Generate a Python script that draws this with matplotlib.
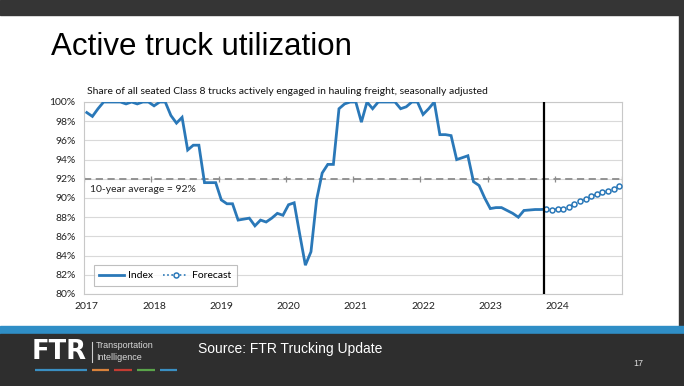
import matplotlib
matplotlib.use("Agg")
import matplotlib.pyplot as plt
from matplotlib.patches import Rectangle
from matplotlib.lines import Line2D
from matplotlib import font_manager

# ---- data (monthly, Jan 2017 onward) ----
years = ["2017", "2018", "2019", "2020", "2021", "2022", "2023", "2024"]
index_vals = [
    98.9, 98.5, 99.3, 100, 100, 100, 100, 99.8, 100, 99.8, 100, 100,          # 2017
    99.6, 100, 100, 98.6, 97.8, 98.4, 95.0, 95.5, 95.5, 91.6, 91.6, 91.6,     # 2018
    89.8, 89.4, 89.4, 87.7, 87.8, 87.9, 87.1, 87.7, 87.5, 87.9, 88.4, 88.2,   # 2019
    89.3, 89.5, 86.2, 83.0, 84.4, 89.8, 92.6, 93.5, 93.5, 99.3, 99.8, 100,    # 2020
    100, 97.9, 100, 99.3, 100, 100, 100, 100, 99.3, 99.5, 100, 100,          # 2021
    98.7, 99.3, 100, 96.6, 96.6, 96.5, 94.0, 94.2, 94.4, 91.7, 91.3, 90.0,    # 2022
    88.9, 89.0, 89.0, 88.7, 88.4, 88.0, 88.7, 88.75, 88.8, 88.8, 88.85,      # 2023 Jan-Nov
]
forecast_vals = [88.85, 88.8, 88.85, 88.9, 89.1, 89.4, 89.7, 89.9, 90.2, 90.4,
                 90.6, 90.7, 90.9, 91.3]   # Nov 2023 - Dec 2024
forecast_start = len(index_vals) - 1
ten_year_avg = 92
forecast_marker_pos = 81.6

installed = {f.name for f in font_manager.fontManager.ttflist}
narrow = "Liberation Sans Narrow" if "Liberation Sans Narrow" in installed else "Liberation Sans"

W, H = 684, 386
fig = plt.figure(figsize=(W / 100, H / 100), dpi=100)
fig.patch.set_facecolor("white")

# slide decoration
bg = fig.add_axes([0, 0, 1, 1])
bg.set_xlim(0, W)
bg.set_ylim(H, 0)
bg.axis("off")
bg.add_patch(Rectangle((0, 0), W, 15, color="#353535"))
bg.add_patch(Rectangle((679, 0), 5, H, color="#353535"))
bg.add_patch(Rectangle((0, 326), W, 8, color="#2f8ec6"))
bg.add_patch(Rectangle((0, 334), W, H - 334, color="#2e2e2e"))

bg.text(51, 47, "Active truck utilization", fontsize=22.5, family="Liberation Sans",
        color="black", va="center", ha="left")

# footer
bg.text(32, 352, "FTR", fontsize=18.5, family="DejaVu Sans", fontweight="heavy",
        color="white", va="center", ha="left")
bg.plot([92, 92], [342, 362], color="#cfcfcf", lw=0.8)
bg.text(96, 346, "Transportation", fontsize=6.5, family=narrow,
        color="#d8d8d8", va="center", ha="left")
bg.text(96, 357, "Intelligence", fontsize=6.5, family=narrow,
        color="#d8d8d8", va="center", ha="left")
for (x0, x1), c in zip([(35, 87), (92, 109), (114, 132), (137, 155), (160, 177)],
                       ["#3a8fc2", "#d9823b", "#c33c32", "#5aa44a", "#3a8fc2"]):
    bg.plot([x0, x1], [370, 370], color=c, lw=1.6, solid_capstyle="butt")
bg.text(198, 349, "Source: FTR Trucking Update", fontsize=10, family="Liberation Sans",
        color="white", va="center", ha="left")
bg.text(638, 363, "17", fontsize=6.5, family="Liberation Sans",
        color="#dddddd", va="center", ha="center")

# chart
L, R, T, B = 84, 622, 102, 294
ax = fig.add_axes([L / W, 1 - B / H, (R - L) / W, (B - T) / H])
ax.set_facecolor("white")
blue = "#2a78b8"
n_total = len(index_vals) - 1 + len(forecast_vals)
ax.set_xlim(-0.5, n_total - 0.5)
ax.set_ylim(80, 100)
yt = list(range(80, 101, 2))
ax.set_yticks(yt)
ax.set_yticklabels([f"{v}%" for v in yt])
ax.set_xticks(range(0, 12 * len(years), 12))
ax.set_xticklabels(years)
ax.tick_params(length=0, labelsize=7.5, colors="#222222")
ax.tick_params(axis="x", pad=6)
ax.tick_params(axis="y", pad=6)
for lbl in ax.get_xticklabels() + ax.get_yticklabels():
    lbl.set_family("Lato")
ax.grid(axis="y", color="#d9d9d9", lw=0.8)
ax.set_axisbelow(True)
for s in ax.spines.values():
    s.set_color("#c8c8c8")
    s.set_linewidth(0.8)

# 92% crossing axis with tick marks at year boundaries
ax.axhline(ten_year_avg, color="#8c8c8c", lw=1.3, ls=(0, (4, 2.5)), zorder=2)
ax.plot([12 * k - 0.5 for k in range(len(years) + 1)], [ten_year_avg] * (len(years) + 1),
        ls="none", marker="|", ms=5, mew=0.9, color="#8c8c8c", zorder=2)
ax.text(0.5, 90.9, "10-year average = 92%", fontsize=7.5, family="Lato",
        color="#222222", va="center", ha="left")

xi = list(range(len(index_vals)))
xf = list(range(forecast_start, forecast_start + len(forecast_vals)))
ax.plot(xi, index_vals, color=blue, lw=2.0, zorder=4, solid_joinstyle="miter")
ax.plot(xf, forecast_vals, color=blue, lw=1.2, ls=(0, (1, 1.5)), marker="o", ms=3.6,
        mfc="white", mec=blue, mew=1.1, zorder=5)
ax.axvline(forecast_marker_pos, color="black", lw=1.6, zorder=6)

fig.text((L + 3) / W, 1 - 92 / H,
         "Share of all seated Class 8 trucks actively engaged in hauling freight, seasonally adjusted",
         fontsize=7.5, family="Lato", color="#111111", va="center", ha="left")

handles = [Line2D([], [], color=blue, lw=2.0),
           Line2D([], [], color=blue, lw=1.2, ls=(0, (1, 1.5)), marker="o", ms=3.6,
                  mfc="white", mec=blue, mew=1.1)]
leg = ax.legend(handles, ["Index", "Forecast"], loc="lower left", ncol=2,
                bbox_to_anchor=(0.008, 0.015), frameon=True, fancybox=False,
                shadow=False, prop={"family": "Lato", "size": 7.5},
                handlelength=2.4, columnspacing=1.0, borderpad=0.55, handletextpad=0.35)
leg.get_frame().set_edgecolor("#b0b0b0")
leg.get_frame().set_linewidth(0.8)

fig.savefig("out.png", dpi=100)
